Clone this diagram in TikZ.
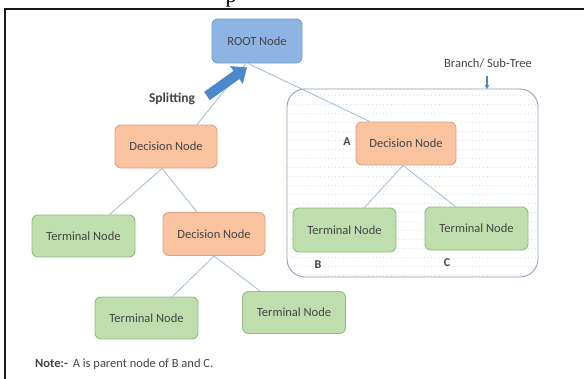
\documentclass[tikz,border=0pt]{standalone}
\usepackage{fontspec}
\setmainfont{Carlito}
\newfontfamily\capfont{Liberation Serif}
\usetikzlibrary{calc,arrows.meta}

\definecolor{rootfill}{HTML}{8EB4E3}
\definecolor{rootline}{HTML}{6F9BD0}
\definecolor{decfill}{HTML}{F9C3A0}
\definecolor{decline}{HTML}{D9A486}
\definecolor{termfill}{HTML}{BEDFAD}
\definecolor{termline}{HTML}{93BC82}
\definecolor{linkcol}{HTML}{A3BCD8}
\definecolor{boxline}{HTML}{8FA3BC}
\definecolor{dotcol}{HTML}{D6E0EE}
\definecolor{txt}{HTML}{454545}
\definecolor{splitblue}{HTML}{4C88CA}

\tikzset{
  treebox/.style={rounded corners=6pt, line width=0.9pt, inner sep=0pt,
    font=\fontsize{12.5}{14}\selectfont, text=txt},
  rootbox/.style={treebox, fill=rootfill, draw=rootline,
    minimum width=90pt, minimum height=44pt},
  decbox/.style={treebox, fill=decfill, draw=decline,
    minimum width=102pt, minimum height=43pt},
  termbox/.style={treebox, fill=termfill, draw=termline,
    minimum width=103pt, minimum height=42pt},
  link/.style={draw=linkcol, line width=0.8pt},
  tag/.style={font=\bfseries\fontsize{12}{14}\selectfont, text=txt},
}

\begin{document}
\begin{tikzpicture}[x=1pt, y=-1pt]
  \useasboundingbox (0,0) rectangle (584,378);
  \fill[white] (0,0) rectangle (584,378);

  % descender of the caption line above the frame
  \node[anchor=base, font=\capfont\fontsize{22}{24}\selectfont, inner sep=0pt]
    (cap) at (231,2.5) {p};

  % frame
  \draw[line width=2pt, black!90] (584,8.5) -- (4.5,8.5) -- (4.5,380);

  % sub-tree region with dotted grid
  \begin{scope}
    \clip[rounded corners=18pt] (287,89) rectangle (538,277);
    \foreach \yy in {95,104,...,275}
      \draw[dotcol, line width=0.7pt, dash pattern=on 0.7pt off 3pt] (287,\yy) -- (538,\yy);
  \end{scope}
  \draw[boxline, line width=0.9pt, rounded corners=18pt] (287,89) rectangle (538,277);

  % nodes
  \node[rootbox] (root) at (257,41) {ROOT Node};
  \node[decbox]  (decL) at (166,146.5) {Decision Node};
  \node[termbox] (termL) at (83.5,236) {Terminal Node};
  \node[decbox]  (decM) at (214,234) {Decision Node};
  \node[termbox] (termBL) at (146.5,318) {Terminal Node};
  \node[termbox] (termBR) at (294,312.5) {Terminal Node};
  \node[decbox, minimum width=100pt] (decA) at (406,143.5) {Decision Node};
  \node[termbox, minimum height=44pt] (termB) at (344.5,230) {Terminal Node};
  \node[termbox, minimum height=43pt] (termC) at (476.5,228.5) {Terminal Node};

  % connectors
  \begin{scope}[on background layer/.try]
  \end{scope}
  \draw[link] ($(root.south)+(-11,0)$) -- ($(decL.north)+(31,0)$);
  \draw[link] ($(root.south)+(-9,0)$) -- ($(decA.north)+(-36,0)$);
  \draw[link] ($(decL.south)+(-4,0)$) -- ($(termL.north)+(26,0)$);
  \draw[link] ($(decL.south)+(-4,0)$) -- ($(decM.north)+(-17,0)$);
  \draw[link] (decM.south) -- ($(termBL.north)+(26,0)$);
  \draw[link] (decM.south) -- ($(termBR.north)+(-34,0)$);
  \draw[link] ($(decA.south)+(-3,0)$) -- ($(termB.north)+(20,0)$);
  \draw[link] ($(decA.south)+(-3,0)$) -- ($(termC.north)+(-21,0)$);

  % splitting arrow
  \coordinate (splitTail) at (207,96);
  \draw[splitblue, line width=10pt, -{Triangle[length=13pt, width=21pt]}]
    (splitTail) -- ($(root.south)+(-10,4)$);
  \node[font=\bfseries\fontsize{13.5}{15}\selectfont, text=txt] (split) at (172,99) {Splitting};

  % sub-tree caption and pointer
  \node[font=\fontsize{12.5}{14}\selectfont, text=txt] (branch) at (488,63) {Branch/ Sub-Tree};
  \coordinate (branchTop) at (487,89);
  \draw[splitblue, line width=2.5pt, -{Triangle[length=4pt, width=4.5pt]}]
    (487,76) -- (branchTop);

  % letters
  \node[tag] (labA) at (347,142) {A};
  \node[tag] (labB) at (318,265) {B};
  \node[tag] (labC) at (447,263) {C};

  % note
  \node[anchor=base west, inner sep=0pt, font=\fontsize{12.5}{14}\selectfont, text=txt]
    (note) at (35,367) {\textbf{Note:-}\, A is parent node of B and C.};
\end{tikzpicture}
\end{document}
